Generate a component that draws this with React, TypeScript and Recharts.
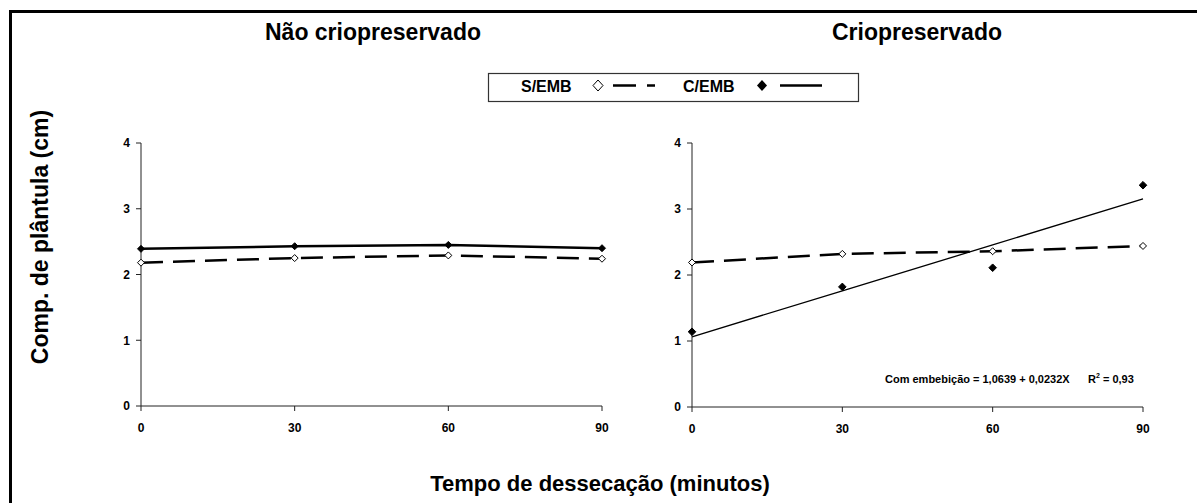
import React from 'react'
import { LineChart, Line, XAxis, YAxis } from 'recharts'

// minutos de dessecação
const minutos = [0, 30, 60, 90]
const yTicks = [0, 1, 2, 3, 4]

// Não criopreservado
const naoSemEmb = [2.18, 2.25, 2.29, 2.24]
const naoComEmb = [2.39, 2.43, 2.45, 2.4]

// Criopreservado
const crioSemEmb = [2.19, 2.32, 2.36, 2.44]
const crioComEmb = [1.14, 1.82, 2.11, 3.36]
// ajuste: 1,0639 + 0,0232X
const crioComAjuste = [1.0639, 1.7599, 2.4559, 3.1519]

const FONT = '"Liberation Sans", Arial, Helvetica, sans-serif'
const AXIS = '#222'

const naoRows = minutos.map((x, i) => ({ x, sem: naoSemEmb[i], com: naoComEmb[i] }))
const crioRows = minutos.map((x, i) => ({
  x,
  sem: crioSemEmb[i],
  com: crioComEmb[i],
  ajuste: crioComAjuste[i],
}))

const tickStyle = { fontSize: 12, fontWeight: 'bold', fill: '#000', fontFamily: FONT }

function diamondDot(filled: boolean, r: number) {
  return (props: any) => {
    const { cx, cy, index } = props
    if (cx == null || cy == null) return <g key={`e-${index}`} />
    return (
      <polygon
        key={`d-${index}`}
        points={`${cx},${cy - r} ${cx + r},${cy} ${cx},${cy + r} ${cx - r},${cy}`}
        fill={filled ? '#000' : '#fff'}
        stroke="#000"
        strokeWidth={1}
      />
    )
  }
}

export default function App() {
  const xAxisProps = {
    type: 'number' as const,
    dataKey: 'x',
    domain: [0, 90],
    ticks: minutos,
    interval: 0 as const,
    tickSize: 5,
    tickMargin: 12,
    height: 30,
    tick: tickStyle,
    axisLine: { stroke: AXIS },
    tickLine: { stroke: AXIS },
  }
  const yAxisProps = {
    type: 'number' as const,
    domain: [0, 4],
    ticks: yTicks,
    interval: 0 as const,
    tickSize: 5,
    tickMargin: 6,
    tick: tickStyle,
    axisLine: { stroke: AXIS },
    tickLine: { stroke: AXIS },
  }

  return (
    <div
      style={{
        position: 'absolute',
        left: 0,
        top: 0,
        width: 1197,
        height: 503,
        overflow: 'hidden',
        background: '#fff',
        fontFamily: FONT,
      }}
    >
      <div style={{ position: 'absolute', left: 100, top: 130 }}>
        <LineChart width={520} height={306} data={naoRows} margin={{ top: 13, right: 18, bottom: 0, left: 0 }}>
          <XAxis {...xAxisProps} />
          <YAxis {...yAxisProps} width={41} />
          <Line
            type="linear"
            dataKey="sem"
            stroke="#000"
            strokeWidth={2.5}
            strokeDasharray="22 10"
            dot={diamondDot(false, 3.5)}
            isAnimationActive={false}
          />
          <Line
            type="linear"
            dataKey="com"
            stroke="#000"
            strokeWidth={2.5}
            dot={diamondDot(true, 3.5)}
            isAnimationActive={false}
          />
        </LineChart>
      </div>

      <div style={{ position: 'absolute', left: 650, top: 130 }}>
        <LineChart width={510} height={307} data={crioRows} margin={{ top: 13, right: 17, bottom: 0, left: 0 }}>
          <XAxis {...xAxisProps} />
          <YAxis {...yAxisProps} width={42} />
          <Line
            type="linear"
            dataKey="ajuste"
            stroke="#000"
            strokeWidth={1.3}
            dot={false}
            isAnimationActive={false}
          />
          <Line
            type="linear"
            dataKey="sem"
            stroke="#000"
            strokeWidth={2.5}
            strokeDasharray="22 10"
            dot={diamondDot(false, 3.5)}
            isAnimationActive={false}
          />
          <Line
            type="linear"
            dataKey="com"
            stroke="none"
            strokeWidth={0}
            dot={diamondDot(true, 3.8)}
            isAnimationActive={false}
          />
        </LineChart>
      </div>

      <svg
        width={1197}
        height={503}
        style={{ position: 'absolute', left: 0, top: 0, pointerEvents: 'none' }}
        fontFamily={FONT}
        fontWeight="bold"
      >
        <path d="M10.5 503 V11.5 H1197" fill="none" stroke="#000" strokeWidth={3} />

        <text x={373} y={40} textAnchor="middle" fontSize={23}>
          Não criopreservado
        </text>
        <text x={917} y={40} textAnchor="middle" fontSize={23}>
          Criopreservado
        </text>

        {/* legenda */}
        <rect x={488.5} y={73.5} width={370} height={28} fill="#fff" stroke="#333" strokeWidth={1.2} />
        <text x={521} y={92} fontSize={16}>S/EMB</text>
        <polygon points="598,80 603,85.5 598,91 593,85.5" fill="#fff" stroke="#000" strokeWidth={1} />
        <line x1={613} y1={85.5} x2={655} y2={85.5} stroke="#000" strokeWidth={2.5} strokeDasharray="23 11" />
        <text x={683} y={92} fontSize={16}>C/EMB</text>
        <polygon points="762,80 767,85.5 762,91 757,85.5" fill="#000" />
        <line x1={780} y1={85.5} x2={822} y2={85.5} stroke="#000" strokeWidth={2.5} />

        {/* equação do ajuste */}
        <text x={885} y={383} fontSize={11}>
          Com embebição = 1,0639 + 0,0232X
        </text>
        <text x={1088} y={383} fontSize={11}>
          R<tspan fontSize={7} dy={-5}>2</tspan>
          <tspan dy={5}> = 0,93</tspan>
        </text>

        <text x={48} y={237} textAnchor="middle" fontSize={23} transform="rotate(-90 48 237)">
          Comp. de plântula (cm)
        </text>
        <text x={600} y={491} textAnchor="middle" fontSize={22}>
          Tempo de dessecação (minutos)
        </text>
      </svg>
    </div>
  )
}
